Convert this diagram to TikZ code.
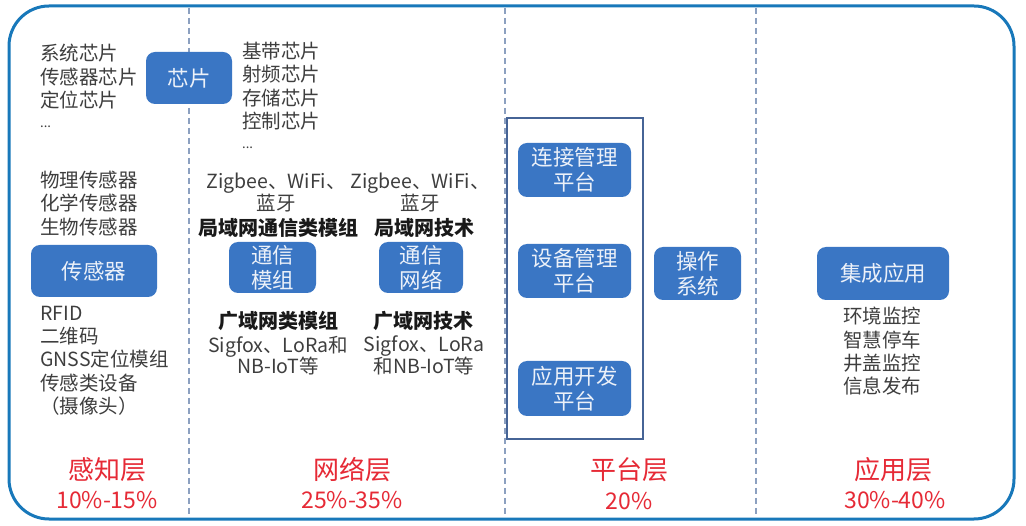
\documentclass[tikz,border=0pt]{standalone}
\usepackage{fontspec}
\setmainfont{Noto Sans CJK SC}
\definecolor{frameblue}{RGB}{24,120,186}
\definecolor{boxblue}{RGB}{58,118,196}
\definecolor{boxtext}{RGB}{236,241,249}
\definecolor{listgray}{RGB}{62,62,62}
\definecolor{headblack}{RGB}{25,25,25}
\definecolor{layerred}{RGB}{230,42,54}
\definecolor{dashgray}{RGB}{140,160,192}
\definecolor{platframe}{RGB}{70,100,150}
\newcommand{\middots}{\raisebox{3.5pt}{\fontsize{13}{13}\selectfont...}}

\begin{document}
\begin{tikzpicture}[x=1pt,y=-1pt,
    blk/.style={fill=boxblue, rounded corners=9pt, text=boxtext, font=\fontsize{21.5}{25}\selectfont, align=center, inner sep=0pt},
    lst/.style={text=listgray, font=\fontsize{19.5}{23.3}\selectfont, align=left, inner sep=0pt},
    ctr/.style={text=listgray, font=\fontsize{19.5}{21.5}\selectfont, align=center, inner sep=0pt},
    hd/.style={text=headblack, font=\fontsize{20}{24}\selectfont\bfseries, inner sep=0pt},
    layer/.style={text=layerred, font=\fontsize{26}{30}\selectfont, inner sep=0pt},
    pct/.style={text=layerred, font=\fontsize{23}{27}\selectfont, inner sep=0pt},
    divline/.style={draw=dashgray, line width=1.2pt, dash pattern=on 6pt off 4pt}]
    \useasboundingbox[fill=white] (0,0) rectangle (1026,526);

    % Frame and column dividers
    \draw[frameblue, line width=3pt, rounded corners=40pt] (9,6) rectangle (1014,519);
    \draw[divline] (189,8) -- (189,517);
    \draw[divline] (505,8) -- (505,517);
    \draw[divline] (756,8) -- (756,517);

    % Perception layer
    \node[lst, anchor=west] (chipsl) at (40,87.5) {系统芯片\\传感器芯片\\定位芯片\\\middots};
    \node[blk, minimum width=86pt, minimum height=52pt] (chip) at (189,78) {芯片};
    \node[lst, anchor=west] (chipsr) at (242,97) {基带芯片\\射频芯片\\存储芯片\\控制芯片\\\middots};
    \node[lst, anchor=west] (sensl) at (40,203.5) {物理传感器\\化学传感器\\生物传感器};
    \node[blk, minimum width=126pt, minimum height=52pt] (sensor) at (94,271) {传感器};
    \node[lst, anchor=west] (sensd) at (40,360.5) {RFID\\二维码\\GNSS定位模组\\传感类设备\\（摄像头）};
    \node[layer] (perc) at (107,470) {感知层};
    \node[pct] (percp) at (107,500) {10\%-15\%};

    % Network layer
    \node[ctr] (lanmodt) at (276,192.5) {Zigbee、WiFi、\\蓝牙};
    \node[hd] (lanmodh) at (278,228) {局域网通信类模组};
    \node[blk, minimum width=87pt, minimum height=51pt] (commod) at (272.5,267.5) {通信\\模组};
    \node[hd] (wanmodh) at (278,321) {广域网类模组};
    \node[ctr] (wanmodt) at (278,355.5) {Sigfox、LoRa和\\NB-IoT等};

    \node[ctr] (lannett) at (420,192.5) {Zigbee、WiFi、\\蓝牙};
    \node[hd] (lannetw) at (424,228) {局域网技术};
    \node[blk, minimum width=84pt, minimum height=51pt] (comnet) at (421,267.5) {通信\\网络};
    \node[hd] (wannetw) at (423,321) {广域网技术};
    \node[ctr] (wannett) at (424,355.5) {Sigfox、LoRa\\和NB-IoT等};
    \node[layer] (netw) at (352,470) {网络层};
    \node[pct] (netwp) at (352,500) {25\%-35\%};

    % Platform layer
    \draw[platframe, line width=1.5pt] (507,118) rectangle (643,439);
    \node[blk, minimum width=113pt, minimum height=54pt] (connp) at (574.5,170) {连接管理\\平台};
    \node[blk, minimum width=113pt, minimum height=54pt] (devp) at (574.5,271) {设备管理\\平台};
    \node[blk, minimum width=113pt, minimum height=55pt] (appp) at (574.5,388.5) {应用开发\\平台};
    \node[blk, minimum width=87pt, minimum height=53pt] (opsys) at (697.5,273.5) {操作\\系统};
    \node[layer] (plat) at (629,470) {平台层};
    \node[pct] (platp) at (629,501) {20\%};

    % Application layer
    \node[blk, minimum width=132pt, minimum height=53pt] (intapp) at (883,273.5) {集成应用};
    \node[lst, anchor=west] (apps) at (843,351.5) {环境监控\\智慧停车\\井盖监控\\信息发布};
    \node[layer] (appl) at (893,470) {应用层};
    \node[pct] (applp) at (895,500) {30\%-40\%};
\end{tikzpicture}
\end{document}
